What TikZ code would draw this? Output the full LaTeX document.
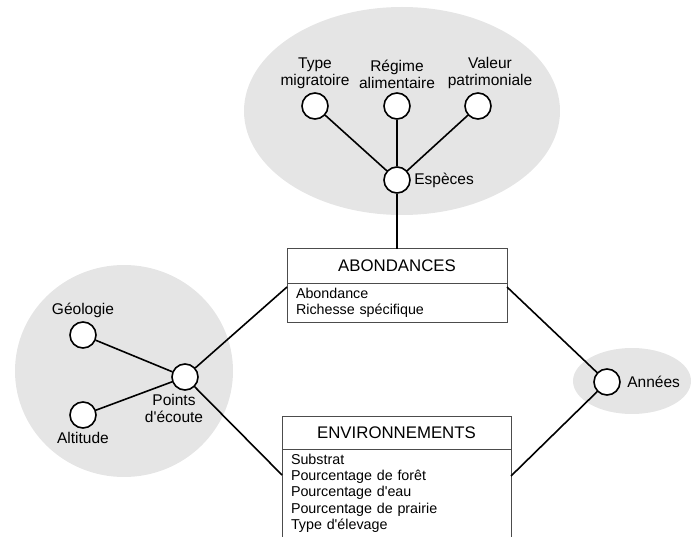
\documentclass[tikz,border=0pt]{standalone}
\usepackage{fontspec}
\setmainfont{Liberation Sans}[Ligatures=TeXOff]
\usetikzlibrary{positioning}

\begin{document}
\begin{tikzpicture}
    [
    x=1pt, y=-1pt,
    every node/.style={font=\fontsize{15.5}{17}\selectfont},
    entity/.style={circle,draw,line width=1.6pt,fill=white,inner sep=0pt,minimum size=26pt},
    group/.style={fill=black!10},
    table/.style={draw=black!70,line width=1pt,outer sep=0pt,fill=white,minimum width=220pt,minimum height=34pt,font=\fontsize{16.8}{18}\selectfont},
    attrs/.style={draw=black!70,line width=1pt,outer sep=0pt,fill=white,inner xsep=9pt,inner ysep=5pt,text width=202pt,align=left,font=\fontsize{14.3}{16.3}\selectfont},
    link/.style={line width=1.6pt},
    ]
    \useasboundingbox (0,0) rectangle (693,537);
    \clip (0,0) rectangle (693,537);

    % groupes
    \fill [group] (402,111) ellipse [x radius=158pt, y radius=104pt];
    \fill [group] (124,371) ellipse [x radius=109pt, y radius=106pt];
    \fill [group] (632,381) ellipse [x radius=59pt, y radius=33pt];

    % tables
    \node (abond) at (397,266) [table] {ABONDANCES};
    \node (abondattr) [attrs,below=0pt of abond] {Abondance\\Richesse spécifique};
    \node (env) at (396.5,432.5) [table,minimum width=229pt,minimum height=33pt] {ENVIRONNEMENTS};
    \node (envattr) [attrs,text width=211pt,below=0pt of env] {Substrat\\Pourcentage de forêt\\Pourcentage d'eau\\Pourcentage de prairie\\Type d'élevage};

    % dimensions
    \node (type) at (315,106) [entity,label={[align=center]above:Type\\migratoire}] {};
    \node (regime) at (397,106) [entity,label={[align=center]above:Régime\\alimentaire}] {};
    \node (valeur) at (478,106) [entity,label={[align=center,xshift=12pt]above:Valeur\\patrimoniale}] {};
    \node (especes) at (397,180) [entity,label=right:Espèces] {};
    \node (geologie) at (83,335) [entity,label=above:Géologie] {};
    \node (altitude) at (83,415) [entity,label=below:Altitude] {};
    \node (points) at (185,377) [entity,label={[align=center,xshift=-11pt]below:Points\\d'écoute}] {};
    \node (annees) at (607,382) [entity,label={[label distance=3pt]right:Années}] {};

    \draw [link] (type) to (especes);
    \draw [link] (regime) to (especes);
    \draw [link] (valeur) to (especes);
    \draw [link] (especes) to (abond);
    \draw [link] (geologie) to (points);
    \draw [link] (altitude) to (points);
    \draw [link] (points) to ([yshift=-4pt]abondattr.north west);
    \draw [link] (points) to ([yshift=-26pt]envattr.north west);
    \draw [link] ([yshift=-4pt]abondattr.north east) to (annees);
    \draw [link] ([yshift=-27pt]envattr.north east) to (annees);
  \end{tikzpicture}
\end{document}
